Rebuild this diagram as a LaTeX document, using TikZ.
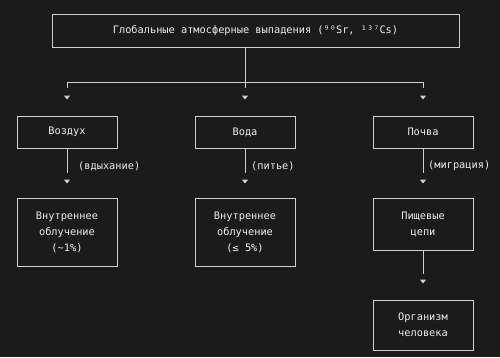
\documentclass[tikz,border=0pt]{standalone}
\usepackage{fontspec}
\setmonofont{DejaVu Sans Mono}
\usetikzlibrary{arrows.meta, positioning}
\definecolor{bgdark}{HTML}{1B1B1B}
\definecolor{framegray}{HTML}{D0D0D0}
\definecolor{textgray}{HTML}{EDEDED}
\newcommand{\diagfont}{\ttfamily\fontsize{10.3}{16}\selectfont}

\begin{document}
\begin{tikzpicture}[x=1pt, y=-1pt,
  box/.style={rectangle, draw=framegray, line width=1pt, minimum width=100pt, minimum height=32pt, inner sep=0pt, align=center, text=textgray, font=\diagfont},
  note/.style={anchor=west, inner sep=0pt, text=textgray, font=\diagfont},
  line/.style={draw=framegray, line width=1pt},
  flow/.style 2 args={line, dash pattern=on #1 off 400pt, -{Triangle[length=4pt, width=6pt]}, shorten >=#2}
]
  % Background
  \fill[bgdark] (0,0) rectangle (500,357);
  \useasboundingbox (0,0) rectangle (500,357);

  % Source
  \node[box, minimum width=407pt, minimum height=33pt] (fallout) at (255.5, 30.5) {Глобальные атмосферные выпадения (⁹⁰Sr, ¹³⁷Cs)};
  \coordinate (fork) at (245, 82);

  % Pathways
  \node[box] (air) at (67, 132) {Воздух};
  \node[box] (water) at (245, 132) {Вода};
  \node[box] (soil) at (423, 132) {Почва};

  % Effects
  \node[box, minimum height=68pt] (inhaled) at (67, 232) {Внутреннее\\облучение\\(\textasciitilde1\%)};
  \node[box, minimum height=68pt] (drunk) at (245, 232) {Внутреннее\\облучение\\(≤ 5\%)};
  \node[box, minimum height=52pt] (food) at (423, 224) {Пищевые\\цепи};
  \node[box, minimum height=50pt] (human) at (423, 325) {Организм\\человека};

  % Fork
  \draw[line] (fallout.south -| fork) -- (fork);
  \draw[flow={184pt}{16pt}] (fork) -| (air);
  \draw[flow={6pt}{16pt}] (fork) -- (water);
  \draw[flow={184pt}{16pt}] (fork) -| (soil);

  % Transfer
  \draw[flow={24pt}{14pt}] (air) -- (inhaled);
  \draw[flow={24pt}{14pt}] (water) -- (drunk);
  \draw[flow={24pt}{14pt}] (soil) -- (food);
  \draw[flow={23pt}{16pt}] (food) -- (human);

  % Transfer labels
  \node[note] (inhale) at (78, 166) {(вдыхание)};
  \node[note] (drink) at (251, 166) {(питье)};
  \node[note] (migrate) at (428, 166) {(миграция)};
\end{tikzpicture}
\end{document}
